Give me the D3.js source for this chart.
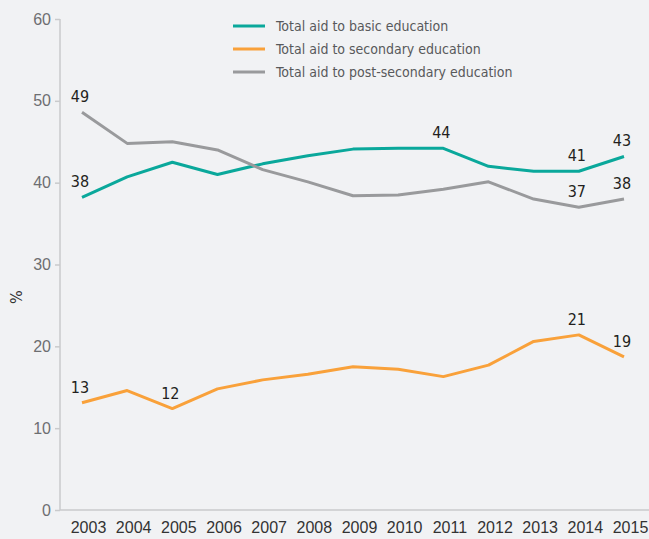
<!DOCTYPE html>
<html>
<head>
<meta charset="utf-8">
<script src="https://cdn.jsdelivr.net/npm/d3@7"></script>
<style>
  html, body { margin: 0; padding: 0; background: #f1f2f4; }
  svg { display: block; font-family: "Liberation Sans Narrow", "DejaVu Sans Condensed", sans-serif; }
</style>
</head>
<body>
<svg></svg>
<script>
const years = [2003, 2004, 2005, 2006, 2007, 2008, 2009, 2010, 2011, 2012, 2013, 2014, 2015]
const basic = [38.2, 40.7, 42.5, 41.0, 42.3, 43.3, 44.1, 44.2, 44.2, 42.0, 41.4, 41.4, 43.2]
const secondary = [13.1, 14.6, 12.4, 14.8, 15.9, 16.6, 17.5, 17.2, 16.3, 17.7, 20.6, 21.4, 18.7]
const postSecondary = [48.6, 44.8, 45.0, 44.0, 41.6, 40.1, 38.4, 38.5, 39.2, 40.1, 38.0, 37.0, 38.0]
const seriesNames = ['Total aid to basic education', 'Total aid to secondary education', 'Total aid to post-secondary education']
const yTicks = [0, 10, 20, 30, 40, 50, 60]
// which points carry a value label: [series index, year]
const labelled = [
  [0, 2003], [0, 2011], [0, 2014], [0, 2015],
  [1, 2003], [1, 2005], [1, 2014], [1, 2015],
  [2, 2003], [2, 2014], [2, 2015]
]

const width = 649
const height = 539
const colors = ['#0aa89b', '#f9a13a', '#999a9c']
const allSeries = [basic, secondary, postSecondary]

const svg = d3.select('svg')
  .attr('width', width)
  .attr('height', height)
  .attr('viewBox', [0, 0, width, height])

const x = d3.scalePoint().domain(years).range([82, 624])
const y = d3.scaleLinear().domain([0, 60]).range([510, 19])

// 纵坐标
svg.append('g')
  .attr('transform', 'translate(60,0)')
  .call(d3.axisLeft(y).tickValues(yTicks).tickSize(5).tickPadding(4))
  .call(g => g.select('.domain').attr('stroke', '#c9cacc').attr('stroke-width', 1.5).attr('d', 'M0,' + y(60) + 'V' + y(0)))
  .call(g => g.selectAll('.tick line').attr('stroke', '#c9cacc').attr('stroke-width', 1.5))
  .call(g => g.selectAll('.tick text').attr('fill', '#6d6e71').attr('font-size', 16).attr('font-family', null))

// 横坐标
svg.append('g')
  .attr('transform', 'translate(0,' + y(0) + ')')
  .call(d3.axisBottom(x).tickSize(0).tickPadding(12))
  .call(g => g.select('.domain').attr('stroke', '#c9cacc').attr('stroke-width', 1.5).attr('d', 'M60,0H' + width))
  .call(g => g.selectAll('.tick text').attr('fill', '#333').attr('font-size', 16).attr('font-family', null).attr('dx', 6))

svg.append('text')
  .text('%')
  .attr('transform', 'translate(22,' + y(26) + ') rotate(-90)')
  .attr('text-anchor', 'middle')
  .attr('fill', '#333')
  .attr('font-size', 16)

// 折线
const line = d3.line()
  .x((d, i) => x(years[i]))
  .y(d => y(d))

allSeries.forEach((s, i) => {
  svg.append('path')
    .datum(s)
    .attr('fill', 'none')
    .attr('stroke', colors[i])
    .attr('stroke-width', 3)
    .attr('stroke-linejoin', 'round')
    .attr('d', line)
})

// 数值标签
svg.append('g')
  .selectAll('text')
  .data(labelled)
  .join('text')
  .text(d => Math.round(allSeries[d[0]][years.indexOf(d[1])]))
  .attr('x', d => x(d[1]) - 2)
  .attr('y', d => y(allSeries[d[0]][years.indexOf(d[1])]) - 10)
  .attr('text-anchor', 'middle')
  .attr('fill', '#231f20')
  .attr('font-size', 16)

// 图例
const legend = svg.append('g')
  .selectAll('g')
  .data(seriesNames)
  .join('g')
  .attr('transform', (d, i) => 'translate(233,' + (26 + i * 23) + ')')

legend.append('line')
  .attr('x1', 0).attr('x2', 32)
  .attr('stroke', (d, i) => colors[i])
  .attr('stroke-width', 3)

legend.append('text')
  .text(d => d)
  .attr('x', 43)
  .attr('dy', '0.35em')
  .attr('fill', '#58595b')
  .attr('font-size', 14)
</script>
</body>
</html>
